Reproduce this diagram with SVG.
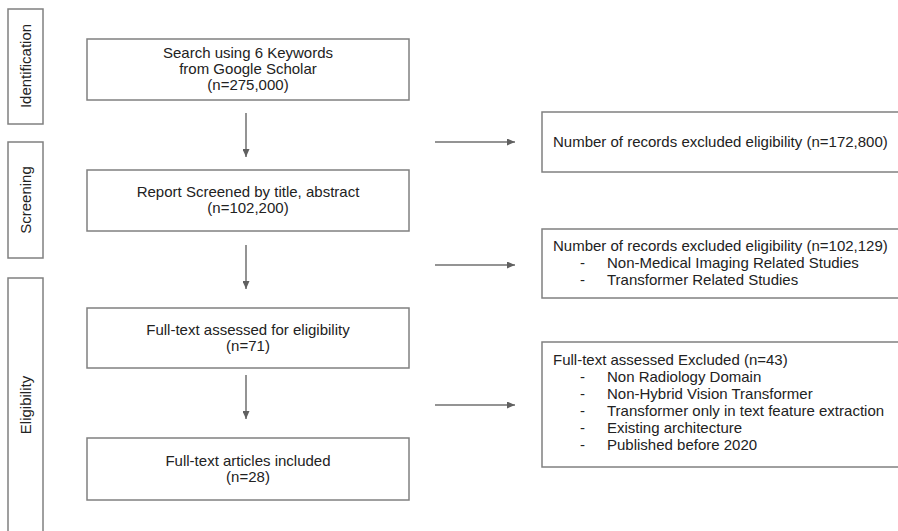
<svg xmlns="http://www.w3.org/2000/svg" width="898" height="531" viewBox="0 0 898 531">
<style>
.box{fill:#fff;stroke:#808080;stroke-width:1.5}
.t{font-family:"Liberation Sans",Arial,sans-serif;font-size:15px;fill:#222}
.c{text-anchor:middle}
.ar{stroke:#707070;stroke-width:1.5;fill:none;marker-end:url(#ah)}
</style>
<defs>
<marker id="ah" viewBox="0 0 10 10" refX="10" refY="5" markerWidth="8" markerHeight="7" markerUnits="userSpaceOnUse" orient="auto" preserveAspectRatio="none">
<path d="M0,0 L10,5 L0,10 Z" fill="#606060"/>
</marker>
</defs>
<rect width="898" height="531" fill="#fff"/>
<g id="phase-identification">
<rect class="box" x="8" y="9" width="35" height="115"/>
<text class="t c" transform="translate(31,66) rotate(-90)">Identification</text>
</g>
<g id="phase-screening">
<rect class="box" x="8" y="142" width="35" height="116"/>
<text class="t c" transform="translate(31,200) rotate(-90)">Screening</text>
</g>
<g id="phase-eligibility">
<rect class="box" x="8" y="278" width="35" height="260"/>
<text class="t c" transform="translate(31,405) rotate(-90)">Eligibility</text>
</g>
<g id="search">
<rect class="box" x="87" y="39" width="322" height="61"/>
<text class="t c" x="248" y="58">Search using 6 Keywords</text>
<text class="t c" x="248" y="74">from Google Scholar</text>
<text class="t c" x="248" y="90">(n=275,000)</text>
</g>
<g id="screened">
<rect class="box" x="87" y="170" width="322" height="61"/>
<text class="t c" x="248" y="197">Report Screened by title, abstract</text>
<text class="t c" x="248" y="213">(n=102,200)</text>
</g>
<g id="fulltext">
<rect class="box" x="87" y="308" width="322" height="60"/>
<text class="t c" x="248" y="335">Full-text assessed for eligibility</text>
<text class="t c" x="248" y="351">(n=71)</text>
</g>
<g id="included">
<rect class="box" x="87" y="438" width="322" height="62"/>
<text class="t c" x="248" y="466">Full-text articles included</text>
<text class="t c" x="248" y="482">(n=28)</text>
</g>
<g id="excluded1">
<rect class="box" x="542" y="112" width="370" height="60"/>
<text class="t" x="553" y="147">Number of records excluded eligibility (n=172,800)</text>
</g>
<g id="excluded2">
<rect class="box" x="542" y="229" width="370" height="69"/>
<text class="t" x="553" y="251">Number of records excluded eligibility (n=102,129)</text>
<text class="t" x="580" y="268">-</text><text class="t" x="607" y="268">Non-Medical Imaging Related Studies</text>
<text class="t" x="580" y="285">-</text><text class="t" x="607" y="285">Transformer Related Studies</text>
</g>
<g id="excluded3">
<rect class="box" x="542" y="342" width="370" height="125"/>
<text class="t" x="553" y="365">Full-text assessed Excluded (n=43)</text>
<text class="t" x="580" y="382">-</text><text class="t" x="607" y="382">Non Radiology Domain</text>
<text class="t" x="580" y="399">-</text><text class="t" x="607" y="399">Non-Hybrid Vision Transformer</text>
<text class="t" x="580" y="416">-</text><text class="t" x="607" y="416">Transformer only in text feature extraction</text>
<text class="t" x="580" y="433">-</text><text class="t" x="607" y="433">Existing architecture</text>
<text class="t" x="580" y="450">-</text><text class="t" x="607" y="450">Published before 2020</text>
</g>
<g id="connectors">
<line class="ar" x1="246" y1="113" x2="246" y2="157"/>
<line class="ar" x1="246" y1="245" x2="246" y2="289"/>
<line class="ar" x1="246" y1="375" x2="246" y2="419"/>
<line class="ar" x1="435" y1="142" x2="515" y2="142"/>
<line class="ar" x1="435" y1="265" x2="515" y2="265"/>
<line class="ar" x1="435" y1="405" x2="515" y2="405"/>
</g>
</svg>
